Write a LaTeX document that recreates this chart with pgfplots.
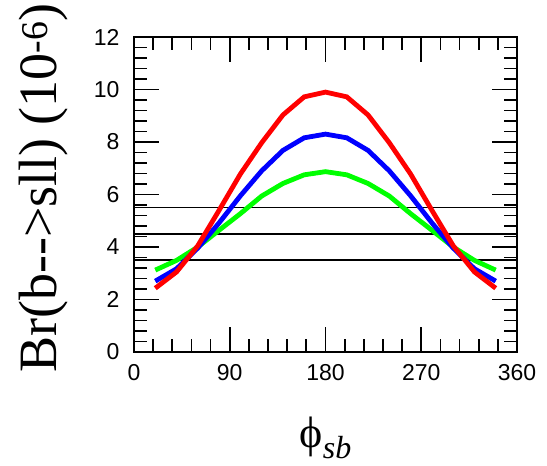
\documentclass[border=0pt]{standalone}
\usepackage{fontspec}
\setmainfont{Liberation Sans}
\newfontfamily\labelfont{Liberation Serif}
\usepackage{pgfplots}
\pgfplotsset{compat=1.18}
\begin{document}
\begin{tikzpicture}
\begin{axis}[
  scale only axis, width=383pt, height=315pt,
  xmin=0, xmax=360, ymin=0, ymax=12,
  xtick={0,90,180,270,360}, ytick={0,2,4,6,8,10,12},
  xticklabels={0,90,180,270,360},
  yticklabels={0,2,4,6,8,10,12},
  minor x tick num=4, minor y tick num=4,
  tick align=inside,
  major tick length=25pt, minor tick length=13pt,
  tick style={black, line width=1.8pt},
  axis line style={line width=2pt},
  ticklabel style={font=\fontsize{23}{23}\selectfont},
  xticklabel style={yshift=-9pt},
  yticklabel style={xshift=-11pt},
]
\pgfplotsinvokeforeach{18,36,54,72,108,126,144,162,198,216,234,252,288,306,324,342}{
  \draw[line width=1.8pt] (axis cs:#1,0) -- ++(0,13pt);
  \draw[line width=1.8pt] (axis cs:#1,12) -- ++(0,-13pt);
}
\pgfplotsinvokeforeach{90,180,270}{
  \draw[line width=1.8pt] (axis cs:#1,0) -- ++(0,25pt);
  \draw[line width=1.8pt] (axis cs:#1,12) -- ++(0,-25pt);
}
\pgfplotsinvokeforeach{0.4,0.8,1.2,1.6,2.4,2.8,3.2,3.6,4.4,4.8,5.2,5.6,6.4,6.8,7.2,7.6,8.4,8.8,9.2,9.6,10.4,10.8,11.2,11.6}{
  \draw[line width=1.8pt] (axis cs:0,#1) -- ++(13pt,0);
  \draw[line width=1.8pt] (axis cs:360,#1) -- ++(-13pt,0);
}
\pgfplotsinvokeforeach{2,4,6,8,10}{
  \draw[line width=1.8pt] (axis cs:0,#1) -- ++(25pt,0);
  \draw[line width=1.8pt] (axis cs:360,#1) -- ++(-25pt,0);
}
\addplot[black, line width=1.6pt] coordinates {(0,5.5) (360,5.5)};
\addplot[black, line width=1.6pt] coordinates {(0,4.5) (360,4.5)};
\addplot[black, line width=1.6pt] coordinates {(0,3.5) (360,3.5)};
\addplot[color={rgb,255:red,0;green,255;blue,0}, line width=4.8pt] coordinates {
(20,3.12) (40,3.49) (60,4.00) (80,4.64) (100,5.27) (120,5.94) (140,6.42) (160,6.75) (180,6.87)
(200,6.75) (220,6.42) (240,5.94) (260,5.27) (280,4.64) (300,4.00) (320,3.49) (340,3.12)};
\addplot[color={rgb,255:red,0;green,0;blue,255}, line width=4.8pt] coordinates {
(20,2.70) (40,3.17) (60,3.96) (80,4.92) (100,5.95) (120,6.90) (140,7.68) (160,8.16) (180,8.30)
(200,8.16) (220,7.68) (240,6.90) (260,5.95) (280,4.92) (300,3.96) (320,3.17) (340,2.70)};
\addplot[color={rgb,255:red,255;green,0;blue,0}, line width=4.8pt] coordinates {
(20,2.43) (40,3.05) (60,4.05) (80,5.40) (100,6.78) (120,7.97) (140,9.03) (160,9.72) (180,9.90)
(200,9.72) (220,9.03) (240,7.97) (260,6.78) (280,5.40) (300,4.05) (320,3.05) (340,2.43)};
\end{axis}
\node[rotate=90, anchor=center, inner sep=0pt] at (-90pt,164pt)
  {\labelfont\fontsize{54}{54}\selectfont Br(b-->sll) (10\textsuperscript{-6})};
\node[anchor=center, inner sep=0pt] at (191.5pt,-86pt)
  {\labelfont\fontsize{44}{44}\selectfont ϕ\raisebox{-0.25em}{\fontsize{32}{32}\selectfont\itshape sb}};
\path (-134pt,-114pt) (413pt,352pt);
\end{tikzpicture}
\end{document}
